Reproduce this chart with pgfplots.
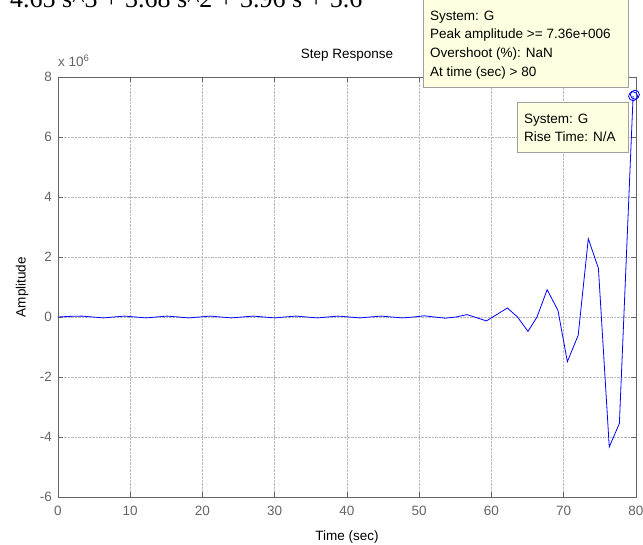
\documentclass[border=0pt]{standalone}
\usepackage{fontspec}
\setmainfont{Liberation Sans}
\newfontfamily\seriffont{Liberation Serif}
\usepackage{pgfplots}
\usepackage{pgfplotstable}
\pgfplotsset{compat=1.18}

\definecolor{axgray}{RGB}{100,100,100}
\definecolor{gridgray}{RGB}{185,185,185}
\definecolor{tipfill}{RGB}{255,255,225}
\definecolor{tipedge}{RGB}{160,160,160}
\definecolor{mblue}{RGB}{0,0,255}

% step response, amplitude in units of 1e6
\pgfplotstableread{
t     y
0.0   0.00
1.6   0.02
3.3   0.03
4.8   0.00
6.3  -0.03
7.7   0.00
9.2   0.03
10.7  0.00
12.2 -0.03
13.6  0.00
15.1  0.03
16.6  0.00
18.1 -0.03
19.6  0.00
21.1  0.03
22.5  0.00
24.0 -0.03
25.5  0.00
27.0  0.03
28.5  0.00
30.0 -0.03
31.4  0.00
32.9  0.03
34.4  0.00
35.9 -0.03
37.3  0.00
38.8  0.03
40.3  0.00
41.8 -0.03
43.2  0.00
44.7  0.03
46.2  0.00
47.7 -0.03
49.2  0.00
50.7  0.04
52.1  0.00
53.6 -0.04
55.1  0.00
56.6  0.08
59.3 -0.13
62.2  0.30
63.6  0.00
65.05 -0.48
66.3  0.00
67.7  0.91
69.2  0.22
70.5 -1.49
72.0 -0.61
73.4  2.61
74.8  1.62
76.3 -4.33
77.7 -3.55
79.6  7.36
}\stepdata

\begin{document}
\begin{tikzpicture}[x=1pt, y=1pt, font=\fontsize{13.5}{16}\selectfont]
\path[use as bounding box] (0,0) rectangle (643,544);
\clip (0,0) rectangle (643,544);

% text line above the figure, cut by the page edge as in the screenshot
\node[anchor=base west, inner sep=0, font=\seriffont\fontsize{26}{30}\selectfont]
  at (10,536) {4.65 s\^{}3 + 3.68 s\^{}2 + 3.96 s + 5.6};

\begin{axis}[
    at={(58pt,47pt)}, anchor=south west,
    scale only axis,
    width=578pt, height=420pt,
    xmin=0, xmax=80, ymin=-6, ymax=8,
    xtick={0,10,...,80},
    ytick={-6,-4,...,8},
    axis line style={axgray, line width=0.8pt},
    tick style={axgray, line width=0.6pt},
    tick align=inside,
    major tick length=5pt,
    tick label style={text=axgray},
    /pgf/number format/assume math mode=true,
    xticklabel style={anchor=base, yshift=-19pt},
    yticklabel style={anchor=east, xshift=-2.5pt},
    grid=major,
    major grid style={gridgray, densely dotted, line width=0.6pt},
    title={Step Response},
    title style={at={(0.5,1)}, anchor=base, yshift=12pt},
    xlabel={Time (sec)},
    xlabel style={at={(axis description cs:0.5,0)}, anchor=base, yshift=-43pt},
    ylabel={Amplitude},
    ylabel style={at={(axis description cs:-0.0562,0.5)}, anchor=base},
    clip=false,
]
\addplot[mblue, line width=0.8pt] table[x=t, y=y] {\stepdata};
\addplot[mblue, only marks, mark=o, mark size=4.5pt, mark options={fill=white, line width=0.8pt}]
  coordinates {(79.85,7.41)};
\addplot[mblue, only marks, mark=o, mark size=4.5pt, mark options={fill=white, line width=0.8pt}]
  coordinates {(79.6,7.36)};
\end{axis}

% multiplier
\node[anchor=base west, inner sep=0, text=axgray] at (58,477) {x 10\textsuperscript{6}};

% data tip: peak
\filldraw[fill=tipfill, draw=tipedge, line width=0.6pt] (423,457) rectangle (628,548);
\node[anchor=base west, inner sep=0] at (430,523) {System: G};
\node[anchor=base west, inner sep=0] at (430,505) {Peak amplitude >= 7.36e+006};
\node[anchor=base west, inner sep=0] at (430,486) {Overshoot (\%): NaN};
\node[anchor=base west, inner sep=0] at (430,467.5) {At time (sec) > 80};

% data tip: rise time
\filldraw[fill=tipfill, draw=tipedge, line width=0.6pt] (517,392) rectangle (628,442);
\node[anchor=base west, inner sep=0] at (524,420) {System: G};
\node[anchor=base west, inner sep=0] at (524,402.5) {Rise Time: N/A};
\end{tikzpicture}
\end{document}
